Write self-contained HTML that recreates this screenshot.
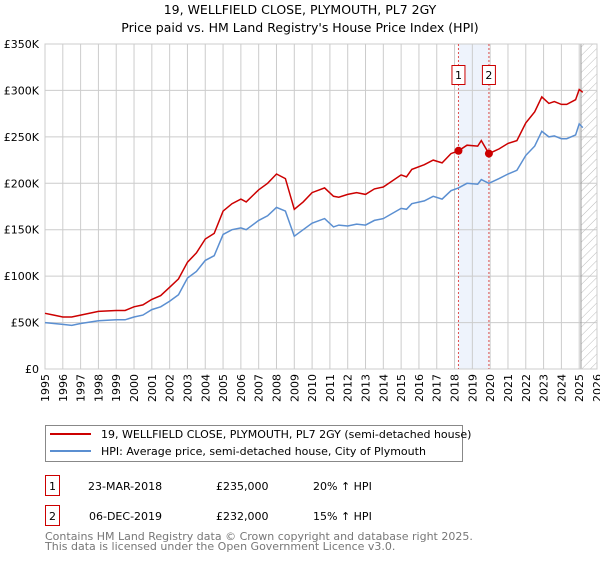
<!DOCTYPE html>
<html><head><meta charset="utf-8"><style>
body{margin:0;background:#fff;font-family:"Liberation Sans","DejaVu Sans",sans-serif;}
svg text{font-family:"DejaVu Sans","Liberation Sans",sans-serif;}
</style></head><body>
<svg width="600" height="560" xmlns="http://www.w3.org/2000/svg">
<text x="300" y="14" text-anchor="middle" font-size="12.5">19, WELLFIELD CLOSE, PLYMOUTH, PL7 2GY</text>
<text x="300" y="32" text-anchor="middle" font-size="12.5">Price paid vs. HM Land Registry's House Price Index (HPI)</text>
<g id="plot"></g>
<g>
<rect x="45.5" y="425.5" width="417" height="36" fill="#fff" stroke="#888"/>
<line x1="50" y1="434" x2="91" y2="434" stroke="#cc0000" stroke-width="2"/>
<text x="101" y="438" font-size="11">19, WELLFIELD CLOSE, PLYMOUTH, PL7 2GY (semi-detached house)</text>
<line x1="50" y1="451" x2="91" y2="451" stroke="#5b8fd1" stroke-width="2"/>
<text x="101" y="455" font-size="11">HPI: Average price, semi-detached house, City of Plymouth</text>
</g>
<g font-size="11">
<rect x="45.5" y="475.5" width="14" height="20" fill="#fff" stroke="#cc0000"/><text x="52.5" y="490" text-anchor="middle">1</text>
<text x="88" y="490">23-MAR-2018</text><text x="216" y="490">£235,000</text><text x="313" y="490">20% ↑ HPI</text>
<rect x="45.5" y="505.5" width="14" height="20" fill="#fff" stroke="#cc0000"/><text x="52.5" y="520" text-anchor="middle">2</text>
<text x="89" y="520">06-DEC-2019</text><text x="216" y="520">£232,000</text><text x="313" y="520">15% ↑ HPI</text>
</g>
<text x="45" y="540" font-size="11" fill="#777">Contains HM Land Registry data © Crown copyright and database right 2025.</text>
<text x="45" y="550" font-size="11" fill="#777">This data is licensed under the Open Government Licence v3.0.</text>
</svg>
<script>
const yTicks=[0,50000,100000,150000,200000,250000,300000,350000];
const yTickLabels=["£0","£50K","£100K","£150K","£200K","£250K","£300K","£350K"];
const xYears=[1995,1996,1997,1998,1999,2000,2001,2002,2003,2004,2005,2006,2007,2008,2009,2010,2011,2012,2013,2014,2015,2016,2017,2018,2019,2020,2021,2022,2023,2024,2025,2026];
const seriesDates=[1995,1995.5,1996,1996.5,1997,1998,1999,1999.5,2000,2000.5,2001,2001.5,2002,2002.5,2003,2003.5,2004,2004.5,2005,2005.5,2006,2006.3,2007,2007.5,2008,2008.5,2009,2009.5,2010,2010.7,2011.2,2011.5,2012,2012.5,2013,2013.5,2014,2015,2015.3,2015.6,2016.3,2016.8,2017.3,2017.8,2018.22,2018.7,2019.3,2019.5,2019.93,2020.5,2021,2021.5,2022,2022.5,2022.9,2023.3,2023.6,2024,2024.3,2024.8,2025,2025.2];
const priceSeries=[60,58,56,56,58,62,63,63,67,69,75,79,88,97,115,125,140,146,170,178,183,180,193,200,210,205,172,180,190,195,186,185,188,190,188,194,196,209,207,215,220,225,222,232,235,241,240,246,232,237,243,246,265,277,293,286,288,285,285,290,301,298];
const hpiSeries=[50,49,48,47,49,52,53,53,56,58,64,67,73,80,98,105,117,122,145,150,152,150,160,165,174,170,143,150,157,162,153,155,154,156,155,160,162,173,172,178,181,186,183,192,195,200,199,204,200,205,210,214,230,240,256,250,251,248,248,252,264,260];
const saleDates=[2018.22,2019.93];
const salePrices=[235000,232000];
const saleLabels=["1","2"];

const X0=45,X1=597,Y0=369,Y1=44;
const xs=y=>X0+(y-1995)*(X1-X0)/31;
const ys=v=>Y0-(v/350000)*(Y0-Y1);
const NS="http://www.w3.org/2000/svg";
const g=document.getElementById('plot');
function mk(t,a,p){const e=document.createElementNS(NS,t);for(const k in a)e.setAttribute(k,a[k]);(p||g).appendChild(e);return e;}
let sh=mk('rect',{x:xs(saleDates[0]),y:Y1,width:xs(saleDates[1])-xs(saleDates[0]),height:Y0-Y1,fill:'#eef3fc'});


yTicks.forEach((v,i)=>{
 let l=mk('line',{x1:X0,x2:X1,y1:ys(v),y2:ys(v),stroke:'#ccc'});
 
 
 let t=mk('text',{x:X0-6,y:ys(v)+4,'text-anchor':'end','font-size':'11'});
 t.textContent=yTickLabels[i];
 
 
});
xYears.forEach(yr=>{
 let l=mk('line',{x1:xs(yr),x2:xs(yr),y1:Y1,y2:Y0,stroke:'#ccc'});
 
 
 let t=mk('text',{x:0,y:0,'text-anchor':'end','font-size':'11',transform:`translate(${xs(yr)+4},${Y0+5}) rotate(-90)`});
 t.textContent=yr;
 
 
});
let defs=mk('defs',{});
let pat=mk('pattern',{id:'hatch',width:6,height:6,patternUnits:'userSpaceOnUse',patternTransform:'rotate(45)'},defs);
mk('line',{x1:0,y1:0,x2:0,y2:6,stroke:'#bbb','stroke-width':1},pat);
let hx=xs(2025.1);
let hr=mk('rect',{x:hx,y:Y1,width:X1-hx,height:Y0-Y1,fill:'url(#hatch)',stroke:'#999'});


mk('rect',{x:X0,y:Y1,width:X1-X0,height:Y0-Y1,fill:'none',stroke:'#ccc'});
saleDates.forEach((d,i)=>{
 let l=mk('line',{x1:xs(d),x2:xs(d),y1:Y1,y2:Y0,stroke:'#e05050','stroke-dasharray':'2,2'});
 
 
});
function path(vals,col,name){
 const d=seriesDates.map((t,i)=>(i?'L':'M')+xs(t).toFixed(1)+','+ys(vals[i]*1000).toFixed(1)).join('');
 let p=mk('path',{d:d,fill:'none',stroke:col,'stroke-width':1.5});
 
 
}
path(hpiSeries,'#5b8fd1','hpi-line');
path(priceSeries,'#cc0000','price-paid-line');
saleDates.forEach((d,i)=>{
 let c=mk('circle',{cx:xs(d),cy:ys(salePrices[i]),r:4,fill:'#cc0000'});
 
 
 let bx=mk('rect',{x:xs(d)-6.5,y:65.5,width:13,height:19,fill:'#fff',stroke:'#cc0000'});
 
 
 let t=mk('text',{x:xs(d),y:79,'text-anchor':'middle','font-size':'11'});
 t.textContent=saleLabels[i];
 
 
});
</script>
</body></html>
